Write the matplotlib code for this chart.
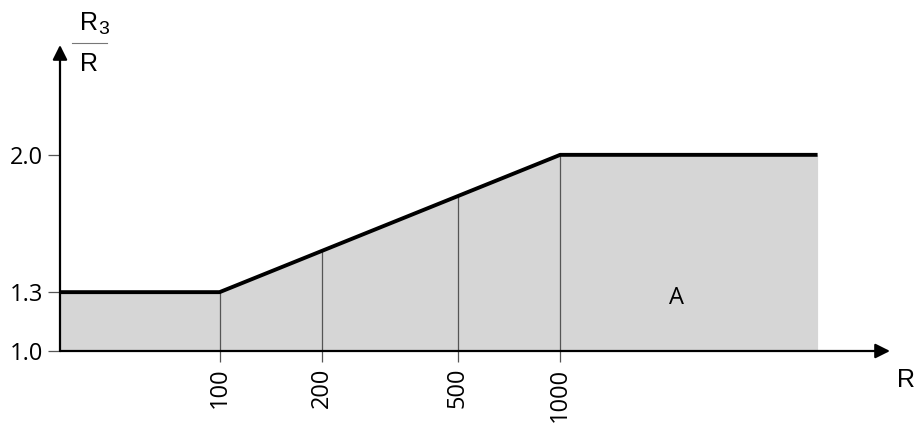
import numpy as np
import matplotlib
matplotlib.use("Agg")
import matplotlib.pyplot as plt

# chart data
r_range = [34, 5700]          # R domain drawn (start at y axis, end of shaded area)
r_knees = [100, 1000]         # break points of the curve
ratio_knees = [1.3, 2.0]      # R3/R at the break points
x_ticks = [100, 200, 500, 1000]
x_tick_labels = ["100", "200", "500", "1000"]
y_ticks = [1.0, 1.3, 2.0]
y_tick_labels = ["1.0", "1.3", "2.0"]
area_label = "A"

plt.rcParams['font.family'] = ['Open Sans', 'DejaVu Sans']

fig = plt.figure(figsize=(9.17, 4.23), dpi=100)
ax = fig.add_axes([60 / 917, 72 / 423, 830 / 917, 306 / 423])
ax.set_xscale('log')
ax.set_xlim(34, 9300)
ax.set_ylim(1.0, 2.56)

# curve
rx = [r_range[0]] + r_knees + [r_range[1]]
ry = [ratio_knees[0]] + ratio_knees + [ratio_knees[-1]]
ax.fill_between(rx, 1.0, ry, color='#d6d6d6', lw=0, zorder=1)
ax.plot(rx, ry, color='black', lw=2.8, solid_capstyle='butt', zorder=4)

# vertical guide lines up to the curve
tops = np.interp(np.log10(x_ticks), np.log10(r_knees), ratio_knees)
ax.vlines(x_ticks, 1.0, tops, color='#555555', lw=0.9, zorder=2)

# axes with arrows
for s in ax.spines.values():
    s.set_visible(False)
arrow = dict(arrowstyle='-|>', color='black', lw=1.6, mutation_scale=22,
             shrinkA=0, shrinkB=0)
ax.annotate('', xy=(1, 0), xytext=(0, 0), xycoords='axes fraction',
            arrowprops=arrow, zorder=5)
ax.annotate('', xy=(0, 1), xytext=(0, 0), xycoords='axes fraction',
            arrowprops=arrow, zorder=5)

ax.minorticks_off()
ax.set_xticks(x_ticks)
ax.set_xticklabels(x_tick_labels, rotation=90, fontsize=17)
ax.set_yticks(y_ticks)
ax.set_yticklabels(y_tick_labels, fontsize=17)
ax.tick_params(axis='x', length=8, width=0.9, color='#555555', pad=4)
ax.tick_params(axis='y', length=9, width=0.9, color='#555555', pad=3)

ax.text(2200, 1.27, area_label, fontsize=17, ha='center', va='center')

# axis labels
fig.text(906 / 917, 1 - 380 / 423, 'R', fontsize=18, ha='center', va='center',
         family='Liberation Sans')
fig.text(89 / 917, 1 - 23 / 423, 'R', fontsize=18, ha='center', va='center',
         family='Liberation Sans')
fig.text(104 / 917, 1 - 30 / 423, '3', fontsize=14, ha='center', va='center',
         family='Liberation Sans')
fig.text(89 / 917, 1 - 64 / 423, 'R', fontsize=18, ha='center', va='center',
         family='Liberation Sans')
fig.add_artist(plt.Line2D([72 / 917, 107 / 917], [1 - 43 / 423, 1 - 43 / 423],
                          color='#777777', lw=0.8))

fig.savefig('out.png', dpi=100)
